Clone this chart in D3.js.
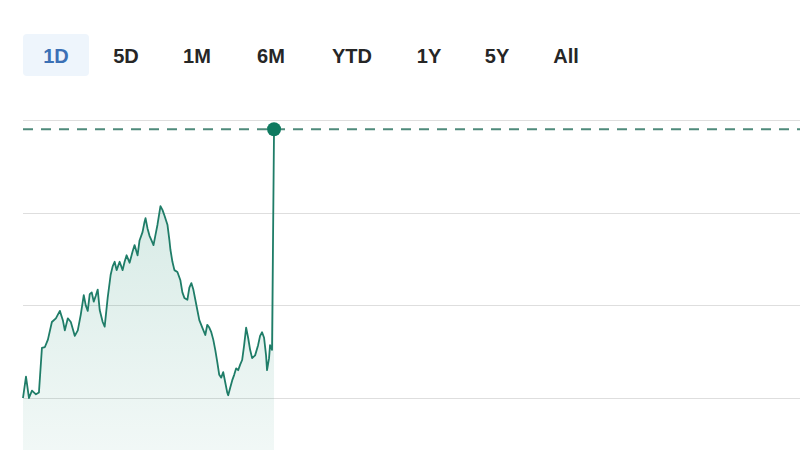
<!DOCTYPE html>
<html>
<head>
<meta charset="utf-8">
<script src="https://cdn.jsdelivr.net/npm/d3@7"></script>
<style>
  html, body { margin: 0; padding: 0; background: #fff; }
  svg { display: block; }
</style>
</head>
<body>
<svg id="chart" width="800" height="450"></svg>
<script>
// ---- Data ----
const ranges = ["1D", "5D", "1M", "6M", "YTD", "1Y", "5Y", "All"];
const selectedRange = "1D";
// minutes since market open (1D session = 390 minutes)
const minutes = [0,1.5,3,4.5,6.5,8,9.5,11,12.5,14.5,16.5,18.5,20,21,22.5,24,26,27.5,29,30.5,31.5,32.5,33.5,34.5,35.5,36.5,37.5,38.5,40,41,42.5,44,45,46,47,48.5,50,51,52,53.5,55,56,57.5,58.5,60,61,61.5,62.5,63.5,64.5,65.5,66.5,67.5,69,70,71,72.5,73.5,74,75,76,77.5,79,80,81,82.5,83.5,84.5,85.5,86.5,87.5,88.5,90,91.5,92.5,93.5,94.5,95.5,96.5,97.5,98.5,99.5,100.5,101.5,102.5,103,104,105,106,107,108,109,110,111,112,113,114,115,116.5,118,119,120,121,122,122.5,123.5,124,125,126];
const prices = [100.00,100.23,100.00,100.08,100.04,100.06,100.54,100.55,100.63,100.82,100.86,100.94,100.84,100.73,100.86,100.82,100.67,100.73,100.90,101.11,101.00,100.94,101.12,101.14,101.04,101.10,101.17,100.95,100.82,100.77,101.08,101.33,101.42,101.47,101.38,101.47,101.38,101.47,101.54,101.46,101.58,101.65,101.54,101.70,101.79,101.90,101.94,101.83,101.75,101.70,101.65,101.76,101.87,102.07,102.03,101.97,101.87,101.70,101.60,101.47,101.38,101.36,101.27,101.14,101.08,101.06,101.19,101.24,101.17,101.06,100.95,100.84,100.76,100.68,100.79,100.76,100.71,100.63,100.52,100.39,100.25,100.22,100.28,100.17,100.06,100.03,100.11,100.19,100.25,100.32,100.30,100.36,100.41,100.57,100.76,100.65,100.52,100.43,100.46,100.57,100.67,100.71,100.65,100.46,100.30,100.43,100.57,100.52,102.90];
const gridValues = [100, 101, 102, 103];
const sessionMinutes = [0, 390];
const priceDomain = [100, 103];
const referencePrice = 102.90;

// ---- Layout ----
const svg = d3.select("#chart");
const W = 800, H = 450;
const plot = { left: 23, right: 800, top: 120, bottom: 398 };

const x = d3.scaleLinear().domain(sessionMinutes).range([plot.left, plot.right]);
const y = d3.scaleLinear().domain(priceDomain).range([plot.bottom, plot.top]);

const data = minutes.map((m, i) => ({ m, p: prices[i] }));

// ---- Range buttons ----
const btnCenters = [56, 126, 197, 271, 352, 429, 497, 566];
const btns = svg.append("g").attr("class", "ranges");
ranges.forEach((r, i) => {
  const g = btns.append("g");
  if (r === selectedRange) {
    g.append("rect")
      .attr("x", btnCenters[i] - 33).attr("y", 34)
      .attr("width", 66).attr("height", 42)
      .attr("rx", 4)
      .attr("fill", "#eef5fc");
  }
  g.append("text")
    .attr("x", btnCenters[i]).attr("y", 62.5)
    .attr("text-anchor", "middle")
    .attr("font-family", "Liberation Sans, Arial, sans-serif")
    .attr("font-weight", "bold")
    .attr("font-size", 20)
    .attr("fill", r === selectedRange ? "#3b70b5" : "#262626")
    .text(r);
});

// ---- Gridlines ----
svg.append("g").selectAll("line").data(gridValues).join("line")
  .attr("x1", plot.left).attr("x2", plot.right)
  .attr("y1", d => Math.round(y(d)) + 0.5).attr("y2", d => Math.round(y(d)) + 0.5)
  .attr("stroke", "#dedede").attr("stroke-width", 1);

// ---- Area gradient ----
const defs = svg.append("defs");
const grad = defs.append("linearGradient").attr("id", "fillGrad")
  .attr("gradientUnits", "userSpaceOnUse")
  .attr("x1", 0).attr("x2", 0)
  .attr("y1", y(d3.max(prices.slice(0, -1)))).attr("y2", H);
grad.append("stop").attr("offset", "0%").attr("stop-color", "#1a8a6e").attr("stop-opacity", 0.17);
grad.append("stop").attr("offset", "100%").attr("stop-color", "#1a8a6e").attr("stop-opacity", 0.06);

const area = d3.area()
  .x(d => x(d.m))
  .y0(H)
  .y1(d => y(d.p));

svg.append("path").datum(data)
  .attr("d", area)
  .attr("fill", "url(#fillGrad)");

// ---- Reference dashed line ----
svg.append("line")
  .attr("x1", plot.left).attr("x2", plot.right)
  .attr("y1", y(referencePrice)).attr("y2", y(referencePrice))
  .attr("stroke", "#4f8a7b").attr("stroke-width", 2)
  .attr("stroke-dasharray", "10,8");

// ---- Price line ----
const line = d3.line().x(d => x(d.m)).y(d => y(d.p));
svg.append("path").datum(data)
  .attr("d", line)
  .attr("fill", "none")
  .attr("stroke", "#1f7d68")
  .attr("stroke-width", 1.8)
  .attr("stroke-linejoin", "round");

// ---- Last point marker ----
const last = data[data.length - 1];
svg.append("circle")
  .attr("cx", x(last.m)).attr("cy", y(last.p))
  .attr("r", 7)
  .attr("fill", "#0f7a60");
</script>
</body>
</html>
